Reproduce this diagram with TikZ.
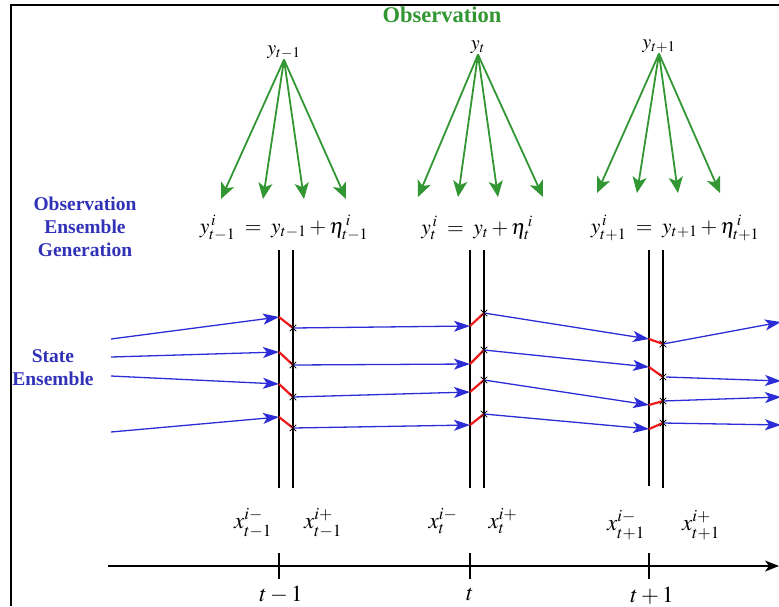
\documentclass[tikz,border=0pt]{standalone}
\usepackage{mathptmx}
\usepackage[no-math]{fontspec}
\setmainfont{Liberation Serif}
\usetikzlibrary{arrows.meta, shapes.misc}

\definecolor{obsgreen}{RGB}{50,150,50}
\definecolor{ensblue}{RGB}{45,45,215}
\definecolor{txtblue}{RGB}{50,50,185}
\definecolor{updred}{RGB}{235,25,25}

\begin{document}
\begin{tikzpicture}[
    x=1pt, y=-1pt,
    title/.style={font=\fontsize{22.5}{24}\selectfont\bfseries, text=obsgreen, inner sep=0pt},
    side/.style={font=\fontsize{19.5}{23}\selectfont\bfseries, text=txtblue, align=center, inner sep=0pt},
    obs/.style={font=\fontsize{20}{22}\selectfont, inner sep=1pt},
    eqn/.style={font=\fontsize{21.5}{23}\selectfont, inner sep=0pt},
    lab/.style={font=\fontsize{23}{25}\selectfont, inner sep=0pt},
    cross/.style={draw, cross out, minimum size=6pt, inner sep=0pt, thin},
    pert/.style={draw=obsgreen, line width=1.8pt, -{Stealth[length=16pt, width=14pt, inset=4pt]}},
    ens/.style={draw=ensblue, line width=1.3pt, -{Stealth[length=16pt, width=11pt, inset=4pt]}},
    upd/.style={draw=updred, line width=2.2pt},
    wall/.style={line width=1.3pt},
    axis/.style={line width=1.3pt, -{Stealth[length=14pt, width=11pt, inset=4pt]}}
]
    \useasboundingbox (0,0) rectangle (779,606);
    \draw[line width=1.4pt] (11,606) -- (11,5) -- (779,5);

    % labels
    \node[title] (obstitle) at (442,15) {Observation};
    \node[side] (gen) at (85,227) {Observation\\Ensemble\\Generation};
    \node[side] (state) at (53,368) {State\\Ensemble};

    % observations
    \node[obs] (yprev) at (284,52) {$y_{t-1}$};
    \node[obs] (ycur) at (478,47) {$y_{t}$};
    \node[obs] (ynext) at (659,46) {$y_{t+1}$};

    \node[eqn] (eqprev) at (284,228) {$y^{\,i}_{t-1} \;=\; y_{t-1} + \eta^{\,i}_{t-1}$};
    \node[eqn] (eqcur) at (477,228) {$y^{\,i}_{t} \;=\; y_{t} + \eta^{\,i}_{t}$};
    \node[eqn] (eqnext) at (675,228) {$y^{\,i}_{t+1} \;=\; y_{t+1} + \eta^{\,i}_{t+1}$};

    \coordinate (p1) at (221,199); \coordinate (p2) at (263,199);
    \coordinate (p3) at (304,199); \coordinate (p4) at (346,199);
    \coordinate (q1) at (418,197); \coordinate (q2) at (458,197);
    \coordinate (q3) at (498,197); \coordinate (q4) at (543,197);
    \coordinate (r1) at (597,193); \coordinate (r2) at (637,193);
    \coordinate (r3) at (678,193); \coordinate (r4) at (720,193);

    \draw[pert] (yprev.south) -- (p1);
    \draw[pert] (yprev.south) -- (p2);
    \draw[pert] (yprev.south) -- (p3);
    \draw[pert] (yprev.south) -- (p4);
    \draw[pert] (ycur.south) -- (q1);
    \draw[pert] (ycur.south) -- (q2);
    \draw[pert] (ycur.south) -- (q3);
    \draw[pert] (ycur.south) -- (q4);
    \draw[pert] (ynext.south) -- (r1);
    \draw[pert] (ynext.south) -- (r2);
    \draw[pert] (ynext.south) -- (r3);
    \draw[pert] (ynext.south) -- (r4);

    % forecast / analysis walls
    \draw[wall] (279,250) -- (279,488);
    \draw[wall] (293,250) -- (293,488);
    \draw[wall] (470,250) -- (470,488);
    \draw[wall] (484,250) -- (484,488);
    \draw[wall] (649,250) -- (649,486);
    \draw[wall] (663,250) -- (663,488);

    \node[lab] (xfprev) at (253,523) {$x^{i-}_{t-1}$};
    \node[lab] (xaprev) at (323,523) {$x^{i+}_{t-1}$};
    \node[lab] (xfcur) at (443,521) {$x^{i-}_{t}$};
    \node[lab] (xacur) at (503,521) {$x^{i+}_{t}$};
    \node[lab] (xfnext) at (626,525) {$x^{i-}_{t+1}$};
    \node[lab] (xanext) at (701,525) {$x^{i+}_{t+1}$};

    % ensemble members
    \coordinate (s1) at (111,339); \coordinate (s2) at (111,357);
    \coordinate (s3) at (111,376); \coordinate (s4) at (111,432);
    \coordinate (a1) at (279,317); \coordinate (a2) at (279,352);
    \coordinate (a3) at (279,384); \coordinate (a4) at (279,417);
    \node[cross] (b1) at (293,328) {}; \node[cross] (b2) at (293,365) {};
    \node[cross] (b3) at (293,397) {}; \node[cross] (b4) at (293,428) {};
    \coordinate (c1) at (470,326); \coordinate (c2) at (470,364);
    \coordinate (c3) at (470,392); \coordinate (c4) at (470,425);
    \node[cross] (d1) at (484,313) {}; \node[cross] (d2) at (484,350) {};
    \node[cross] (d3) at (484,380) {}; \node[cross] (d4) at (484,414) {};
    \coordinate (e1) at (649,339); \coordinate (e2) at (649,367);
    \coordinate (e3) at (649,405); \coordinate (e4) at (649,429);
    \node[cross] (f1) at (663,344) {}; \node[cross] (f2) at (663,377) {};
    \node[cross] (f3) at (663,401) {}; \node[cross] (f4) at (663,423) {};
    \coordinate (g1) at (781,322); \coordinate (g2) at (781,381);
    \coordinate (g3) at (781,397); \coordinate (g4) at (781,425);

    \draw[ens] (s1) -- (a1);
    \draw[ens] (s2) -- (a2);
    \draw[ens] (s3) -- (a3);
    \draw[ens] (s4) -- (a4);
    \draw[upd] (a1) -- (b1.center);
    \draw[upd] (a2) -- (b2.center);
    \draw[upd] (a3) -- (b3.center);
    \draw[upd] (a4) -- (b4.center);

    \draw[ens] (b1.center) -- (c1);
    \draw[ens] (b2.center) -- (c2);
    \draw[ens] (b3.center) -- (c3);
    \draw[ens] (b4.center) -- (c4);
    \draw[upd] (c1) -- (d1.center);
    \draw[upd] (c2) -- (d2.center);
    \draw[upd] (c3) -- (d3.center);
    \draw[upd] (c4) -- (d4.center);

    \draw[ens] (d1.center) -- (e1);
    \draw[ens] (d2.center) -- (e2);
    \draw[ens] (d3.center) -- (e3);
    \draw[ens] (d4.center) -- (e4);
    \draw[upd] (e1) -- (f1.center);
    \draw[upd] (e2) -- (f2.center);
    \draw[upd] (e3) -- (f3.center);
    \draw[upd] (e4) -- (f4.center);

    \draw[ens] (f1.center) -- (g1);
    \draw[ens] (f2.east) -- (g2);
    \draw[ens] (f3.center) -- (g3);
    \draw[ens] (f4.center) -- (g4);

    \node[cross] at (b1) {}; \node[cross] at (b2) {};
    \node[cross] at (b3) {}; \node[cross] at (b4) {};
    \node[cross] at (d1) {}; \node[cross] at (d2) {};
    \node[cross] at (d3) {}; \node[cross] at (d4) {};
    \node[cross] at (f1) {}; \node[cross] at (f2) {};
    \node[cross] at (f3) {}; \node[cross] at (f4) {};

    % time axis
    \coordinate (ax0) at (108,566);
    \coordinate (ax1) at (779,566);
    \draw[axis] (ax0) -- (ax1);
    \node[lab] (tprev) at (281,595) {$t-1$};
    \node[lab] (tcur) at (470,594) {$t$};
    \node[lab] (tnext) at (652,596) {$t+1$};
    \draw[wall] (279,553) -- (279,579);
    \draw[wall] (470,553) -- (470,579);
    \draw[wall] (649,553) -- (649,579);
\end{tikzpicture}
\end{document}
